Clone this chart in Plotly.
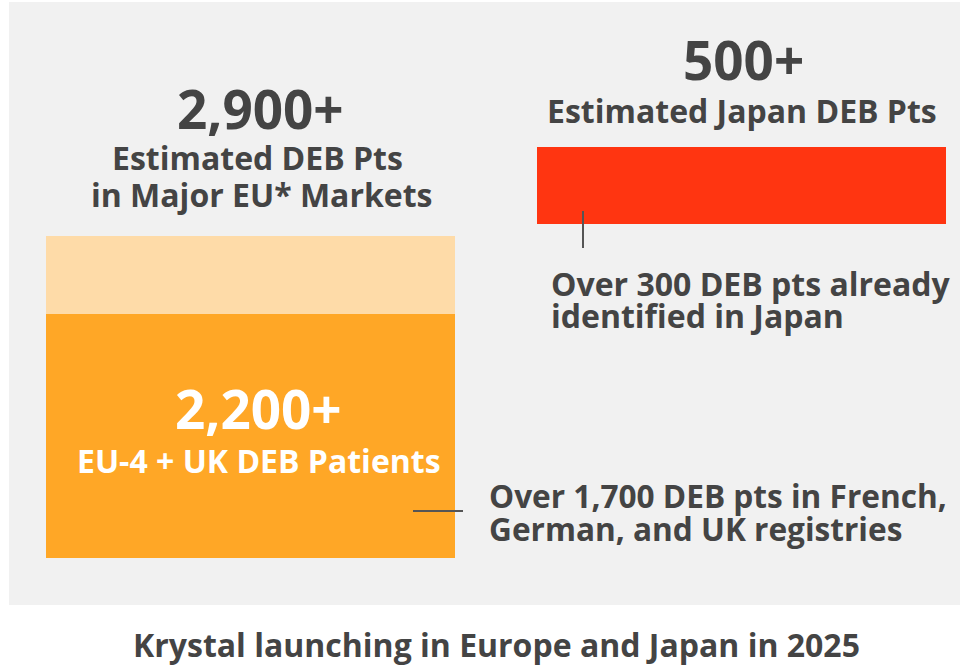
import plotly.graph_objects as go

# data
markets = ["EU", "Japan"]
eu_segments = ["EU-4 + UK", "Other major EU"]
eu_values = [2200, 700]
japan_value = 500
eu_total_label = "2,900+"
eu4_label = "2,200+"
japan_label = "500+"

W, H = 961, 667
FONT = "Open Sans"
DARK = "#444444"


def px(x):
    return x / W


def py(y):
    return 1 - y / H


fig = go.Figure()

# stacked EU bar
fig.add_trace(go.Bar(x=[markets[0]], y=[eu_values[0]], name=eu_segments[0],
                     marker=dict(color="#FFA726", line=dict(width=0)),
                     width=0.833, hoverinfo="skip"))
fig.add_trace(go.Bar(x=[markets[0]], y=[eu_values[1]], name=eu_segments[1],
                     marker=dict(color="#FEDBA8", line=dict(width=0)),
                     width=0.833, hoverinfo="skip"))
# Japan bar floats on its own axis
fig.add_trace(go.Bar(x=[markets[1]], y=[japan_value], name="Japan",
                     marker=dict(color="#FF3511", line=dict(width=0)),
                     width=0.833, xaxis="x2", yaxis="y2", hoverinfo="skip"))

xr = [-0.510, 1.447]
fig.update_layout(
    width=W, height=H,
    margin=dict(l=0, r=0, t=0, b=0),
    paper_bgcolor="white",
    plot_bgcolor="rgba(0,0,0,0)",
    barmode="stack",
    showlegend=False,
    xaxis=dict(domain=[0, 1], range=xr, visible=False, categoryorder="array",
               categoryarray=markets, fixedrange=True),
    yaxis=dict(domain=[0, 1], range=[-982.8, 5031.1], visible=False, fixedrange=True),
    xaxis2=dict(domain=[0, 1], range=xr, visible=False, categoryorder="array",
                categoryarray=markets, anchor="y2", fixedrange=True),
    yaxis2=dict(domain=[py(224), py(147)], range=[0, japan_value], visible=False,
                anchor="x2", fixedrange=True),
    shapes=[
        dict(type="rect", xref="paper", yref="paper", layer="below",
             x0=px(9), x1=px(960), y0=py(605), y1=py(2),
             fillcolor="#F1F1F1", line=dict(width=0)),
        dict(type="line", xref="paper", yref="paper",
             x0=px(413), x1=px(463), y0=py(511), y1=py(511),
             line=dict(color="#555555", width=2)),
        dict(type="line", xref="paper", yref="paper",
             x0=px(583), x1=px(583), y0=py(211), y1=py(248),
             line=dict(color="#555555", width=2)),
    ],
)

texts = [
    (eu_total_label, 260, 108, "center", 53, DARK),
    ("Estimated DEB Pts", 257, 157, "center", 32, DARK),
    ("in Major EU* Markets", 261, 195, "center", 32, DARK),
    (japan_label, 743, 59, "center", 53, DARK),
    ("Estimated Japan DEB Pts", 742, 111, "center", 32, DARK),
    ("Over 300 DEB pts already", 549, 283, "left", 32, DARK),
    ("identified in Japan", 549, 316, "left", 32, DARK),
    (eu4_label, 258, 408, "center", 53, "white"),
    ("EU-4 + UK DEB Patients", 259, 460, "center", 32, "white"),
    ("Over 1,700 DEB pts in French,", 487, 495, "left", 31.6, DARK),
    ("German, and UK registries", 487, 528, "left", 31.6, DARK),
    ("Krystal launching in Europe and Japan in 2025", 496, 644, "center", 32, DARK),
]
for t, x, y, anchor, size, color in texts:
    fig.add_annotation(text=t, x=px(x), y=py(y), xref="paper", yref="paper",
                       xanchor=anchor, yanchor="middle", showarrow=False,
                       font=dict(family=FONT, size=size, color=color, weight="bold"))

fig.write_html("out.html", config={"displayModeBar": False},
               post_script="document.body.style.margin='0';")
